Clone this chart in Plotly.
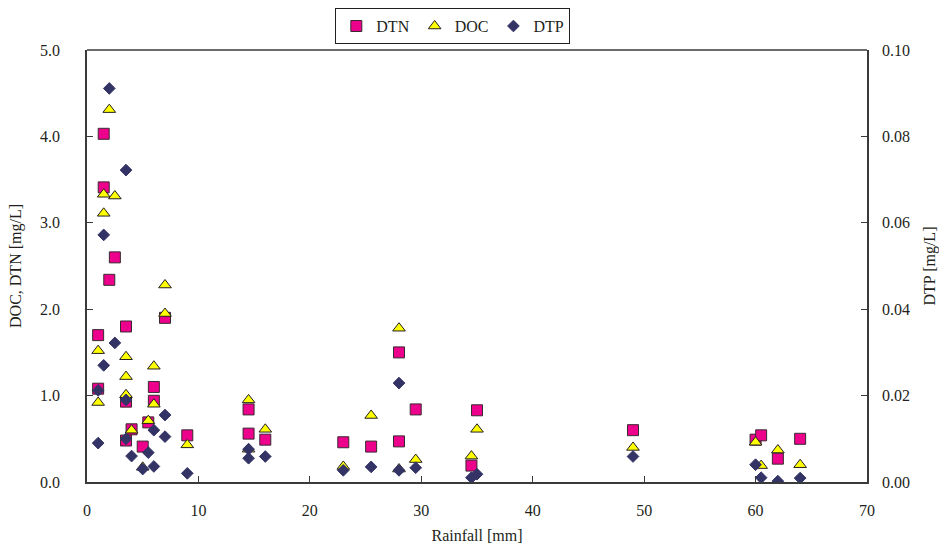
import plotly.graph_objects as go

# Rainfall (mm) and concentrations (mg/L) for each constituent
rain_dtn = [1.0, 1.0, 1.5, 1.5, 2.0, 2.5, 3.5, 3.5, 3.5, 4.0, 5.0, 5.5, 6.0, 6.0, 7.0,
            9.0, 14.5, 14.5, 16.0, 23.0, 25.5, 28.0, 28.0, 29.5, 34.5, 35.0, 49.0,
            60.0, 60.5, 62.0, 64.0]
dtn = [1.70, 1.08, 4.03, 3.41, 2.34, 2.60, 1.80, 0.93, 0.48, 0.61, 0.41, 0.69, 1.10, 0.94, 1.90,
       0.54, 0.84, 0.56, 0.49, 0.46, 0.41, 1.50, 0.47, 0.84, 0.19, 0.83, 0.60,
       0.49, 0.54, 0.27, 0.50]

rain_doc = [1.0, 1.0, 1.5, 1.5, 2.0, 2.5, 3.5, 3.5, 3.5, 4.0, 5.0, 5.5, 6.0, 6.0, 7.0, 7.0,
            9.0, 14.5, 14.5, 16.0, 23.0, 25.5, 28.0, 28.0, 29.5, 34.5, 35.0, 49.0,
            60.0, 60.5, 62.0, 64.0]
doc = [1.52, 0.92, 3.33, 3.11, 4.31, 3.31, 1.45, 1.22, 1.01, 0.60, 0.17, 0.71, 1.34, 0.90, 2.28, 1.95,
       0.43, 0.95, 0.38, 0.61, 0.18, 0.77, 1.78, 0.15, 0.26, 0.30, 0.61, 0.40,
       0.46, 0.19, 0.37, 0.20]

rain_dtp = [1.0, 1.0, 1.5, 1.5, 2.0, 2.5, 3.5, 3.5, 3.5, 4.0, 5.0, 5.5, 6.0, 6.0, 7.0, 7.0,
            9.0, 14.5, 14.5, 16.0, 23.0, 25.5, 28.0, 28.0, 29.5, 34.5, 35.0, 49.0,
            60.0, 60.5, 62.0, 64.0]
dtp = [0.0090, 0.0212, 0.0572, 0.0270, 0.0911, 0.0322, 0.0722, 0.0190, 0.0100, 0.0060, 0.0030,
       0.0068, 0.0120, 0.0036, 0.0155, 0.0105, 0.0020, 0.0076, 0.0055, 0.0059, 0.0027,
       0.0035, 0.0229, 0.0027, 0.0033, 0.0010, 0.0018, 0.0059, 0.0040, 0.0010, 0.0002, 0.0009]

left_ticks = [0, 1, 2, 3, 4, 5]
right_ticks = [0, 0.02, 0.04, 0.06, 0.08, 0.10]
x_ticks = [0, 10, 20, 30, 40, 50, 60, 70]

FONT = "Liberation Serif, Times New Roman, serif"
INK = "#231F20"
AXIS = "#3a3a3a"
FS = 16

fig = go.Figure()
fig.add_trace(go.Scatter(
    x=rain_dtn, y=dtn, mode="markers", name="DTN",
    marker=dict(symbol="square", size=11, color="#EC008C",
                line=dict(color="#3a2a30", width=1)),
))
fig.add_trace(go.Scatter(
    x=rain_doc, y=doc, mode="markers", name="DOC",
    marker=dict(symbol="triangle-up", size=11, color="#FFFF00",
                line=dict(color="#231F20", width=1)),
))
fig.add_trace(go.Scatter(
    x=rain_dtp, y=dtp, mode="markers", name="DTP", yaxis="y2",
    marker=dict(symbol="diamond", size=9, color="#333366",
                line=dict(color="#333366", width=1)),
))

axis_common = dict(
    showline=True, linecolor=AXIS, linewidth=1.5, mirror=False,
    ticks="inside", ticklen=6, tickcolor=AXIS, tickwidth=1,
    showgrid=False, zeroline=False, automargin=False,
    tickfont=dict(family=FONT, size=FS, color=INK),
)

fig.update_layout(
    width=939, height=544,
    margin=dict(l=87, r=72, t=50, b=62, autoexpand=False),
    paper_bgcolor="white", plot_bgcolor="white",
    font=dict(family=FONT, size=FS, color=INK),
    showlegend=True,
    legend=dict(
        orientation="h", x=0.469, xanchor="center", y=1.097, yanchor="top",
        bordercolor=INK, borderwidth=1, bgcolor="white",
        font=dict(family=FONT, size=FS, color=INK),
        itemwidth=30, tracegroupgap=0,
    ),
    xaxis=dict(
        **axis_common, range=[0, 70], tickvals=x_ticks,
        ticktext=[str(v) for v in x_ticks], ticklabelstandoff=13,
        title=dict(text="Rainfall [mm]", standoff=15,
                   font=dict(family=FONT, size=FS, color=INK)),
    ),
    yaxis=dict(
        **axis_common, range=[0, 5], tickvals=left_ticks,
        ticktext=[f"{v:.1f}" for v in left_ticks], ticklabelstandoff=22,
        title=dict(text="DOC, DTN [mg/L]", standoff=14,
                   font=dict(family=FONT, size=FS, color=INK)),
    ),
    yaxis2=dict(
        **axis_common, range=[0, 0.10], tickvals=right_ticks,
        ticktext=[f"{v:.2f}" for v in right_ticks], ticklabelstandoff=10,
        overlaying="y", side="right",
        title=dict(text="DTP [mg/L]", standoff=15,
                   font=dict(family=FONT, size=FS, color=INK)),
    ),
)

# Top border of the plotting frame
fig.add_shape(type="line", xref="paper", yref="paper", x0=0, x1=1, y0=1, y1=1,
              line=dict(color=AXIS, width=1.5))

fig.write_html("out.html")
